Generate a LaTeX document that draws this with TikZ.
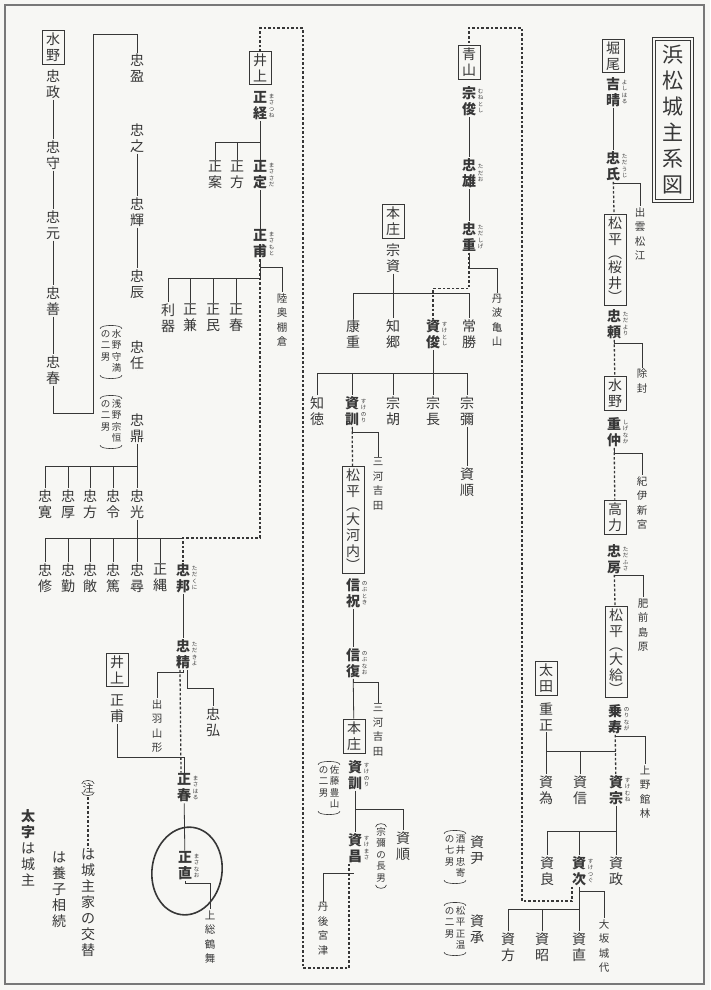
\documentclass[tikz,border=0pt]{standalone}
\usepackage{fontspec}
\setmainfont{Noto Sans CJK JP}
\usetikzlibrary{positioning}
\definecolor{Ink}{RGB}{55,55,55}
\definecolor{Paper}{RGB}{247,247,244}
\definecolor{Frame}{RGB}{120,120,120}
\tikzset{
  person/.style={text=Ink,align=center,inner sep=1pt,
    font=\fontsize{14}{16}\selectfont},
  lord/.style={person,font=\bfseries\fontsize{14}{16}\selectfont},
  clan/.style={person,draw=Ink,line width=0.7pt,inner xsep=4pt,inner ysep=2.5pt},
  town/.style={text=Ink,align=center,inner sep=1pt,
    font=\fontsize{10.5}{14.5}\selectfont},
  ruby/.style={text=Ink,align=center,inner sep=0.5pt,
    font=\fontsize{5.5}{6.5}\selectfont},
  anno/.style={text=Ink,inner xsep=1pt,inner ysep=5pt,
    font=\fontsize{9.5}{11.5}\selectfont},
  blood/.style={draw=Ink,line width=0.8pt},
  adopt/.style={draw=Ink,line width=0.6pt,double=Paper,double distance=1.4pt},
  handover/.style={draw=Ink,line width=1.3pt,dash pattern=on 2.6pt off 2pt}
}
\newcommand\vcol[1]{\begin{tabular}[t]{@{}c@{}}#1\end{tabular}}
\newcommand\brackets[1]{%
  \draw[Ink,line width=0.6pt] ([xshift=0.5pt,yshift=-5pt]#1.north west)
    .. controls ([xshift=0.5pt,yshift=-0.5pt]#1.north west) and
    ([xshift=-0.5pt,yshift=-0.5pt]#1.north east) .. ([xshift=-0.5pt,yshift=-5pt]#1.north east);
  \draw[Ink,line width=0.6pt] ([xshift=0.5pt,yshift=5pt]#1.south west)
    .. controls ([xshift=0.5pt,yshift=0.5pt]#1.south west) and
    ([xshift=-0.5pt,yshift=0.5pt]#1.south east) .. ([xshift=-0.5pt,yshift=5pt]#1.south east);
}
\begin{document}
\begin{tikzpicture}[x=1pt,y=-1pt]
\useasboundingbox (0,0) rectangle (710,990);
\fill[Paper] (0,0) rectangle (710,990);
\draw[Frame,line width=1.2pt] (5,5) rectangle (704,984);

% Title
\node[text=Ink,draw=Ink,line width=0.9pt,double=Paper,double distance=2pt,
  align=center,font=\fontsize{21}{26}\selectfont,
  minimum width=38pt,minimum height=162pt] (title) at (673,120)
  {浜\\松\\城\\主\\系\\図};

% Horio to Matsudaira (Ogyu)
\node[clan] (horio) at (613,56) {堀\\尾};
\node[lord] (yoshiharu) at (613,92) {吉\\晴};
\node[ruby,right=0pt of yoshiharu] (yoshiharu-r) {よ\\し\\は\\る};
\node[lord] (tadauji) at (613,166) {忠\\氏};
\node[ruby,right=0pt of tadauji] (tadauji-r) {た\\だ\\う\\じ};
\node[town] (izumo) at (640,234) {出\\雲\\松\\江};
\node[clan] (matsu1) at (615,260) {松\\平\\[-2pt]︵\\[-2pt]桜\\井\\[-2pt]︶};
\node[lord] (tadayori) at (614,324) {忠\\頼};
\node[ruby,right=0pt of tadayori] (tadayori-r) {た\\だ\\よ\\り};
\node[town] (jofu) at (642,381) {除\\封};
\node[clan] (mizuno1) at (615,393) {水\\野};
\node[lord] (shigenaka) at (614,432) {重\\仲};
\node[ruby,right=0pt of shigenaka] (shigenaka-r) {し\\げ\\な\\か};
\node[town] (kishu) at (642,503) {紀\\伊\\新\\宮};
\node[clan] (koriki) at (615,517) {高\\力};
\node[lord] (tadafusa) at (614,559) {忠\\房};
\node[ruby,right=0pt of tadafusa] (tadafusa-r) {た\\だ\\ふ\\さ};
\node[town] (hizen) at (643,625) {肥\\前\\島\\原};
\node[clan] (matsu2) at (616,652) {松\\平\\[-2pt]︵\\[-2pt]大\\給\\[-2pt]︶};
\node[lord] (norinaga) at (615,719) {乗\\寿};
\node[ruby,right=0pt of norinaga] (norinaga-r) {の\\り\\な\\が};
\node[town] (kozuke) at (645,792) {上\\野\\館\\林};

\draw[blood] (yoshiharu) -- (tadauji);
\draw[blood] (tadauji.south) -- ++(0,2) -| (izumo.north);
\draw[handover] (tadauji) -- (matsu1);
\draw[blood] (tadayori.south) -- ++(0,4) -| (jofu.north);
\draw[handover] (tadayori) -- (mizuno1);
\draw[blood] (shigenaka.south) -- ++(0,6) -| (kishu.north);
\draw[handover] (shigenaka) -- (koriki);
\draw[blood] (tadafusa.south) -- ++(0,1) -| (hizen.north);
\draw[handover] (tadafusa) -- (matsu2);
\draw[blood] (norinaga.south) -- ++(0,2) -| (kozuke.north);

% Ota
\node[clan] (ota) at (546,678) {太\\田};
\node[person] (shigemasa) at (546,717) {重\\正};
\node[person] (suketame) at (546,790) {資\\為};
\node[person] (sukenobu) at (580,790) {資\\信};
\node[lord] (sukemune) at (616,790) {資\\宗};
\node[ruby,right=0pt of sukemune] (sukemune-r) {す\\け\\む\\ね};
\node[person] (sukeyoshi) at (547,871) {資\\良};
\node[lord] (suketsugu) at (579,871) {資\\次};
\node[ruby,right=0pt of suketsugu] (suketsugu-r) {す\\け\\つ\\ぐ};
\node[person] (sukemasa0) at (616,871) {資\\政};
\node[town] (osaka) at (604,946) {大\\坂\\城\\代};
\node[person] (sukekata) at (508,947) {資\\方};
\node[person] (sukeaki) at (542,947) {資\\昭};
\node[person] (sukenao) at (579,947) {資\\直};

\draw[handover] (norinaga) -- (sukemune);
\coordinate (barOt1) at (0,751);
\draw[blood] (shigemasa) -- (suketame);
\draw[blood] (suketame.north |- barOt1) -- (sukemune.north |- barOt1);
\draw[blood] (sukenobu.north) -- (sukenobu.north |- barOt1);
\coordinate (barOt2) at (0,831);
\draw[blood] (sukemune.south) |- (sukeyoshi.north |- barOt2) -- (sukeyoshi.north);
\draw[blood] (suketsugu.north) -- (suketsugu.north |- barOt2);
\draw[blood] (sukemasa0.north) -- (sukemasa0.south |- barOt2);
\coordinate (barOt3) at (0,909);
\draw[blood] (suketsugu) -- (sukenao);
\draw[blood] (sukekata.north) |- (sukenao.north |- barOt3);
\draw[blood] (sukeaki.north) -- (sukeaki.north |- barOt3);
\draw[blood] (suketsugu.south) -- ++(0,5) -| (osaka.north);

% Aoyama
\node[clan] (aoyama) at (469,62) {青\\山};
\node[lord] (munetoshi) at (469,101) {宗\\俊};
\node[ruby,right=0pt of munetoshi] (munetoshi-r) {む\\ね\\と\\し};
\node[lord] (tadao) at (469,173) {忠\\雄};
\node[ruby,right=0pt of tadao] (tadao-r) {た\\だ\\お};
\node[lord] (tadashige) at (469,237) {忠\\重};
\node[ruby,right=0pt of tadashige] (tadashige-r) {た\\だ\\し\\げ};
\node[town] (tanba) at (497,320) {丹\\波\\亀\\山};

\draw[blood] (munetoshi) -- (tadao);
\draw[blood] (tadao) -- (tadashige);
\draw[blood] (tadashige.south) -- ++(0,16) -| (tanba.north);

% Honjo and Matsudaira (Okochi)
\node[clan] (honjo1) at (393,221) {本\\庄};
\node[person] (munesuke) at (393,258) {宗\\資};
\node[person] (yasushige) at (353,334) {康\\重};
\node[person] (tomosato) at (393,334) {知\\郷};
\node[lord] (suketoshi) at (433,334) {資\\俊};
\node[ruby,right=0pt of suketoshi] (suketoshi-r) {す\\け\\と\\し};
\node[person] (tsunekatsu) at (469,334) {常\\勝};
\node[person] (tomonori) at (317,411) {知\\徳};
\node[lord] (sukenori) at (352,411) {資\\訓};
\node[ruby,right=0pt of sukenori] (sukenori-r) {す\\け\\の\\り};
\node[person] (munekazu) at (393,411) {宗\\胡};
\node[person] (munenaga) at (433,411) {宗\\長};
\node[person] (muneya) at (467,411) {宗\\彌};
\node[person] (sukeyori) at (467,482) {資\\順};
\node[town] (mikawa1) at (378,484) {三\\河\\吉\\田};
\node[clan] (ookochi) at (353,520) {松\\平\\[-2pt]︵\\[-2pt]大\\河\\内\\[-2pt]︶};
\node[lord] (nobutoki) at (353,593) {信\\祝};
\node[ruby,right=0pt of nobutoki] (nobutoki-r) {の\\ぶ\\と\\き};
\node[lord] (nobunao) at (353,663) {信\\復};
\node[ruby,right=0pt of nobunao] (nobunao-r) {の\\ぶ\\な\\お};
\node[town] (mikawa2) at (378,730) {三\\河\\吉\\田};
\node[clan] (honjo2) at (354,736) {本\\庄};
\node[lord] (sukenori2) at (355,775) {資\\訓};
\node[ruby,right=0pt of sukenori2] (sukenori2-r) {す\\け\\の\\り};
\node[anno] (note3) at (329,788) {\vcol{の\\二\\男}\hspace{1.5pt}\vcol{佐\\藤\\豊\\山}};
\brackets{note3}
\node[lord] (sukemasa) at (355,848) {資\\昌};
\node[ruby,right=0pt of sukemasa] (sukemasa-r) {す\\け\\ま\\さ};
\node[person] (sukeyori2) at (403,846) {資\\順};
\node[anno] (note4) at (381,856) {\vcol{宗\\彌\\の\\長\\男}};
\brackets{note4}
\node[town] (tango) at (323,929) {丹\\後\\宮\\津};
\node[person] (suketada) at (477,850) {資\\尹};
\node[person] (suketsune) at (477,929) {資\\承};
\node[anno] (note5) at (455,857) {\vcol{の\\七\\男}\hspace{1.5pt}\vcol{酒\\井\\忠\\寄}};
\brackets{note5}
\node[anno] (note6) at (455,929) {\vcol{の\\二\\男}\hspace{1.5pt}\vcol{松\\平\\正\\温}};
\brackets{note6}

\coordinate (barHj1) at (0,293);
\draw[blood] (munesuke) -- (tomosato);
\draw[blood] (yasushige.north) |- (tsunekatsu.north |- barHj1) -- (tsunekatsu.north);
\coordinate (barHj2) at (0,373);
\draw[blood] (suketoshi) -- (munenaga);
\draw[blood] (tomonori.north) |- (muneya.north |- barHj2) -- (muneya.north);
\foreach \kid in {sukenori,munekazu}
  \draw[blood] (\kid.north) -- (\kid.north |- barHj2);
\draw[blood] (muneya) -- (sukeyori);
\draw[blood] (sukenori.south) -- ++(0,6) -| (mikawa1.north);
\draw[handover] (sukenori) -- (ookochi);
\draw[blood] (nobutoki) -- (nobunao);
\draw[blood] (nobunao.south) -- ++(0,4) -| (mikawa2.north);
\draw[blood] (nobunao) -- (honjo2);
\draw[blood] (sukenori2) -- (sukemasa);
\draw[blood] (sukenori2.south) -- ++(0,19) -| (sukeyori2.north);
\draw[blood] (sukemasa.south) -- ++(0,10) -| (tango.north);
\draw[adopt] (sukemasa.south) |- (432,910) |- (suketada.north |- 0,810) -- (suketada.north);
\draw[adopt] (suketada) -- (suketsune);

% Inoue
\node[clan] (inoue1) at (260,68) {井\\上};
\node[lord] (masatsune) at (260,106) {正\\経};
\node[ruby,right=0pt of masatsune] (masatsune-r) {ま\\さ\\つ\\ね};
\node[person] (masaan) at (215,175) {正\\案};
\node[person] (masakata) at (237,175) {正\\方};
\node[lord] (masasada) at (260,175) {正\\定};
\node[ruby,right=0pt of masasada] (masasada-r) {ま\\さ\\さ\\だ};
\node[lord] (masamoto) at (260,244) {正\\甫};
\node[ruby,right=0pt of masamoto] (masamoto-r) {ま\\さ\\も\\と};
\node[town] (tanakura) at (282,320) {陸\\奥\\棚\\倉};
\node[person] (toshikata) at (168,318) {利\\器};
\node[person] (masakane) at (190,318) {正\\兼};
\node[person] (masatami) at (213,318) {正\\民};
\node[person] (masaharu0) at (236,318) {正\\春};

\coordinate (barIn1) at (0,142);
\draw[blood] (masatsune.south) -- (masatsune.south |- barIn1);
\draw[blood] (masaan.north) |- (masasada.north |- barIn1) -- (masasada.north);
\draw[blood] (masakata.north) -- (masakata.north |- barIn1);
\draw[blood] (masasada) -- (masamoto);
\draw[blood] (masamoto.south) -- ++(0,8) -| (tanakura.north);
\coordinate (barIn2) at (0,278);
\draw[blood] (masamoto.south) -- (masamoto.south |- barIn2) -| (toshikata.north);
\foreach \kid in {masakane,masatami,masaharu0}
  \draw[blood] (\kid.north) -- (\kid.north |- barIn2);

% Mizuno
\node[clan] (mizuno0) at (53,47) {水\\野};
\node[person] (tadamasa) at (53,84) {忠\\政};
\node[person] (tadamori) at (53,155) {忠\\守};
\node[person] (tadamoto) at (53,225) {忠\\元};
\node[person] (tadayoshi) at (53,301) {忠\\善};
\node[person] (tadaharu) at (53,370) {忠\\春};
\node[person] (tadamitsu) at (137,68) {忠\\盈};
\node[person] (tadayuki) at (137,138) {忠\\之};
\node[person] (tadateru) at (137,212) {忠\\輝};
\node[person] (tadatoki) at (137,284) {忠\\辰};
\node[person] (tadato) at (137,355) {忠\\任};
\node[person] (tadakane) at (137,428) {忠\\鼎};
\node[anno] (note1) at (111,352) {\vcol{の\\二\\男}\hspace{1.5pt}\vcol{水\\野\\守\\満}};
\brackets{note1}
\node[anno] (note2) at (111,422) {\vcol{の\\二\\男}\hspace{1.5pt}\vcol{浅\\野\\宗\\恒}};
\brackets{note2}
\node[person] (tadahiro) at (45,504) {忠\\寛};
\node[person] (tadaatsu) at (68,504) {忠\\厚};
\node[person] (tadakata) at (90,504) {忠\\方};
\node[person] (tadanori) at (113,504) {忠\\令};
\node[person] (tadamitsu2) at (137,504) {忠\\光};
\node[person] (tadanaga) at (45,578) {忠\\修};
\node[person] (tadaisa) at (68,578) {忠\\勤};
\node[person] (tadasato) at (90,578) {忠\\敞};
\node[person] (tadaatsu2) at (113,578) {忠\\篤};
\node[person] (tadahiro3) at (137,578) {忠\\尋};
\node[person] (masatsuna) at (160,578) {正\\縄};
\node[lord] (tadakuni) at (183,578) {忠\\邦};
\node[ruby,right=0pt of tadakuni] (tadakuni-r) {た\\だ\\く\\に};
\node[lord] (tadakiyo) at (183,654) {忠\\精};
\node[ruby,right=0pt of tadakiyo] (tadakiyo-r) {た\\だ\\き\\よ};
\node[town] (dewa) at (157,726) {出\\羽\\山\\形};
\node[person] (tadahiro2) at (213,722) {忠\\弘};
\node[clan] (inoue2) at (117,670) {井\\上};
\node[person] (masamoto2) at (117,709) {正\\甫};
\node[lord] (masaharu) at (184,788) {正\\春};
\node[ruby,right=0pt of masaharu] (masaharu-r) {ま\\さ\\は\\る};
\node[lord] (masanao) at (185,866) {正\\直};
\node[ruby,right=0pt of masanao] (masanao-r) {ま\\さ\\な\\お};
\node[town] (kazusa) at (210,937) {上\\総\\鶴\\舞};

\draw[blood] (tadamasa) -- (tadamori);
\draw[blood] (tadamori) -- (tadamoto);
\draw[blood] (tadamoto) -- (tadayoshi);
\draw[blood] (tadayoshi) -- (tadaharu);
\coordinate (mzCorner) at (93,34);
\draw[blood] (tadaharu.south) -- ++(0,28) -| (mzCorner) -| (tadamitsu.north);
\draw[adopt] (tadamitsu) -- (tadayuki);
\draw[blood] (tadayuki) -- (tadateru);
\draw[blood] (tadateru) -- (tadatoki);
\draw[adopt] (tadatoki) -- (tadato);
\draw[adopt] (tadato) -- (tadakane);
\coordinate (barMz1) at (0,466);
\draw[blood] (tadakane.south) -- (tadamitsu2.north);
\draw[blood] (tadahiro.north) |- (tadamitsu2.north |- barMz1);
\foreach \kid in {tadaatsu,tadakata,tadanori}
  \draw[blood] (\kid.north) -- (\kid.north |- barMz1);
\coordinate (barMz2) at (0,538);
\draw[blood] (tadamitsu2) -- (tadahiro3);
\draw[blood] (tadanaga.north) |- (tadakuni.north |- barMz2);
\foreach \kid in {tadaisa,tadasato,tadaatsu2,masatsuna}
  \draw[blood] (\kid.north) -- (\kid.north |- barMz2);
\draw[blood] (tadakuni) -- (tadakiyo);
\draw[blood] (tadakiyo.south) -- ++(0,3) -| (dewa.north);
\draw[blood] ([xshift=4pt]tadakiyo.south) -- ++(0,19) -| (tadahiro2.north);
\draw[handover] ([xshift=-3pt]tadakiyo.south) -- ([xshift=-3pt]masaharu.north);
\draw[blood] (masamoto2.south) -- ++(0,33) -| (masaharu.north);
\draw[blood] (masaharu) -- (masanao);
\draw[blood] (masanao.south) -- ++(0,2) -| (kazusa.north);
\draw[Ink,line width=1.6pt,rotate around={-8:(187,871)}] (187,871) ellipse [x radius=35pt,y radius=44pt];

% Changes of house
\draw[handover] ([xshift=-7pt]suketsugu.south) |- (522,901) -- (522,28) -| (aoyama.north);
\draw[handover] (tadashige.south) -- ++(0,36) -| (suketoshi.north);
\draw[handover] ([xshift=-6pt]sukemasa.south) |- (303,968) -- (303,28) -| (inoue1.north);
\draw[handover] (masamoto.south) |- (tadakuni.north |- barMz2) -- (tadakuni.north);

% Legend
\node[anno,inner ysep=4pt,font=\fontsize{11}{13}\selectfont] (chu) at (88,788) {注};
\brackets{chu}
\node[person] (koutai) at (88,903) {は\\城\\主\\家\\の\\交\\替};
\draw[handover] (chu) -- (koutai);
\coordinate (dblTop) at (59,805);
\coordinate (dblBot) at (59,837);
\draw[adopt] (dblTop) -- (dblBot);
\node[person] (yoshi) at (59,890) {は\\養\\子\\相\\続};
\node[person] (futoji) at (28,848) {{\bfseries 太}\\{\bfseries 字}\\は\\城\\主};

\end{tikzpicture}
\end{document}
